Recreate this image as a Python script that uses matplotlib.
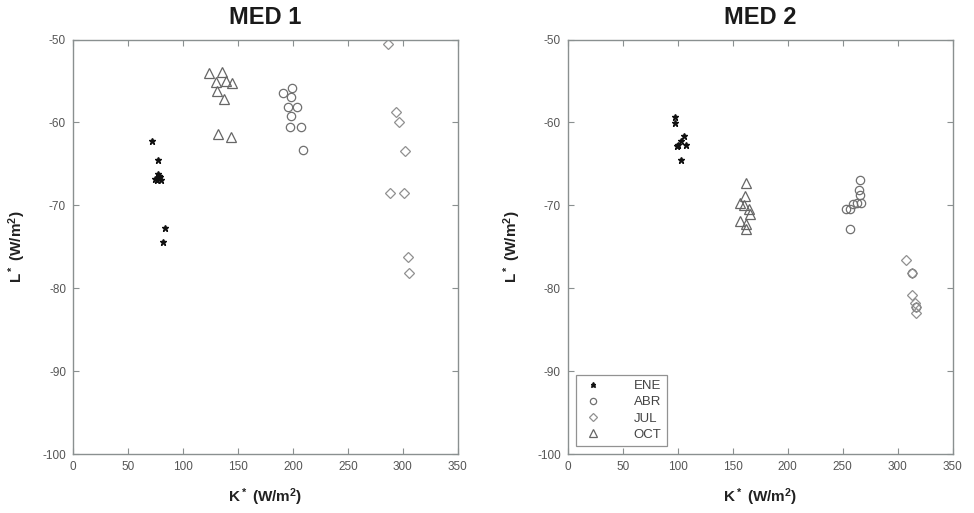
import matplotlib
matplotlib.use("Agg")
import matplotlib.pyplot as plt

plt.rcParams['font.family'] = ['Liberation Sans', 'DejaVu Sans']
plt.rcParams['mathtext.default'] = 'regular'
plt.rcParams['axes.unicode_minus'] = False

titles = ["MED 1", "MED 2"]
series_names = ["ENE", "ABR", "JUL", "OCT"]
x_ticks = [0, 50, 100, 150, 200, 250, 300, 350]
y_ticks = [-100, -90, -80, -70, -60, -50]

# MED 1
med1_ene_x = [71.5, 77, 75, 78, 80, 77, 76, 79, 84, 81.5]
med1_ene_y = [-62.3, -64.5, -66.8, -66.5, -67.0, -66.2, -66.9, -66.6, -72.7, -74.4]
med1_abr_x = [191.2, 198.8, 198.2, 195.8, 204, 198.2, 197.3, 207, 208.8]
med1_abr_y = [-56.5, -55.8, -56.9, -58.1, -58.1, -59.2, -60.5, -60.5, -63.3]
med1_jul_x = [286.7, 293.6, 296.4, 302.4, 288.2, 301.2, 304.3, 305.5]
med1_jul_y = [-50.6, -58.7, -59.9, -63.4, -68.5, -68.5, -76.2, -78.2]
med1_oct_x = [123.6, 135.7, 129.7, 144.8, 130.6, 137.5, 132, 143.6, 139]
med1_oct_y = [-54.0, -53.9, -55.1, -55.2, -56.2, -57.2, -61.4, -61.8, -55.0]

# MED 2
med2_ene_x = [97.9, 97.3, 100.3, 105.5, 107.3, 103, 103.3, 99]
med2_ene_y = [-59.4, -60.1, -62.7, -61.7, -62.7, -62.3, -64.5, -62.9]
med2_abr_x = [265.5, 264.5, 265.5, 263.3, 259.4, 267, 256.4, 252.7, 257, 313.4, 316.4]
med2_abr_y = [-66.9, -68.1, -68.7, -69.7, -69.9, -69.7, -70.5, -70.5, -72.9, -78.2, -82.3]
med2_jul_x = [307.9, 313.4, 313.4, 315.5, 316.4, 317]
med2_jul_y = [-76.6, -78.2, -80.8, -81.8, -82.3, -83.0]
med2_oct_x = [162.4, 161.5, 156.4, 164.8, 165.5, 156.4, 162.4, 162.4, 160]
med2_oct_y = [-67.3, -68.9, -69.7, -70.5, -71.0, -71.9, -72.3, -72.9, -70.0]

panels = [
    (med1_ene_x, med1_ene_y, med1_abr_x, med1_abr_y, med1_jul_x, med1_jul_y, med1_oct_x, med1_oct_y),
    (med2_ene_x, med2_ene_y, med2_abr_x, med2_abr_y, med2_jul_x, med2_jul_y, med2_oct_x, med2_oct_y),
]

fig = plt.figure(figsize=(9.74, 5.13), dpi=100)
lefts = [0.075, 0.583]
axes = [fig.add_axes([l, 0.115, 0.395, 0.808]) for l in lefts]

spine_c = '#8a9090'
tick_c = '#555555'

for i, ax in enumerate(axes):
    ex, ey, ax_, ay, jx, jy, ox, oy = panels[i]
    ax.plot(ex, ey, linestyle='none', marker='*', ms=5, color='#111111', label='ENE')
    ax.plot(ax_, ay, linestyle='none', marker='o', ms=6, mfc='none', mec='#707070', mew=0.9, label='ABR')
    ax.plot(jx, jy, linestyle='none', marker='D', ms=5, mfc='none', mec='#909090', mew=0.9, label='JUL')
    ax.plot(ox, oy, linestyle='none', marker='^', ms=7, mfc='none', mec='#666666', mew=0.9, label='OCT')
    ax.set_xlim(0, 350)
    ax.set_ylim(-100, -50)
    ax.set_xticks(x_ticks)
    ax.set_yticks(y_ticks)
    ax.tick_params(direction='in', top=True, right=True, length=4, width=0.8,
                   color=spine_c, labelcolor=tick_c, labelsize=8.5, pad=5)
    for s in ax.spines.values():
        s.set_color(spine_c)
        s.set_linewidth(1.0)
    ax.set_title(titles[i], fontsize=17, fontweight='bold', color='#1a1a1a', pad=11)
    ax.set_xlabel('K$^*$ (W/m$^2$)', fontsize=11, fontweight='bold', color='#222222', labelpad=10)
    ax.set_ylabel('L$^*$ (W/m$^2$)', fontsize=11, fontweight='bold', color='#222222', labelpad=10)

leg = axes[1].legend(loc='lower left', fontsize=9.5, frameon=True, fancybox=False,
                     borderaxespad=0.6, handletextpad=2.2, labelspacing=0.3,
                     borderpad=0.4, handlelength=1.8, markerscale=0.75)
leg.get_frame().set_edgecolor('#777777')
leg.get_frame().set_linewidth(0.9)
for t in leg.get_texts():
    t.set_color('#444444')

fig.savefig('out.png', dpi=100)
